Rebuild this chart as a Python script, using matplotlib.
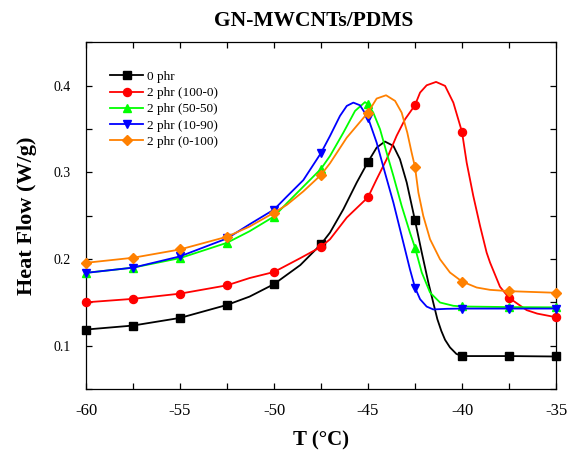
import numpy as np
import matplotlib
matplotlib.use('Agg')
import matplotlib.pyplot as plt
from matplotlib.ticker import MultipleLocator, FixedLocator

plt.rcParams['font.family'] = ['Liberation Serif', 'DejaVu Serif']

# temperatures where the markers sit
T_marks = [-60, -57.5, -55, -52.5, -50, -47.5, -45, -42.5, -40, -37.5, -35]

# marker values
black_mk = [0.1186, 0.1232, 0.132, 0.147, 0.171, 0.217, 0.312, 0.2445, 0.088, 0.088, 0.0875]
red_mk = [0.150, 0.154, 0.160, 0.1696, 0.185, 0.214, 0.2712, 0.3775, 0.3466, 0.1552, 0.1328]
green_mk = [0.184, 0.190, 0.201, 0.2187, 0.249, 0.304, 0.3785, 0.2132, 0.1452, 0.1445, 0.1442]
blue_mk = [0.184, 0.190, 0.203, 0.2237, 0.257, 0.3223, 0.363, 0.167, 0.1428, 0.1428, 0.1428]
orange_mk = [0.1956, 0.2014, 0.211, 0.2257, 0.2534, 0.297, 0.369, 0.3062, 0.174, 0.1629, 0.161]

# extra points read along the curves between the markers
black_T = [-51.3, -48.6, -47.02, -46.31, -45.6, -44.54, -44.1, -43.65, -43.3, -42.94, -42.14, -41.79,
           -41.53, -41.31, -41.1, -40.9, -40.64, -40.3]
black_v = [0.1566, 0.193, 0.2305, 0.2574, 0.2882, 0.3285, 0.3355, 0.3305, 0.3151, 0.2882, 0.2074, 0.1728,
           0.1498, 0.1305, 0.117, 0.1067, 0.098, 0.0905]

red_T = [-51.3, -48.6, -47.02, -46.13, -44.54, -44.01, -43.48, -43.03, -42.23, -41.88, -41.38, -40.9,
         -40.46, -39.75, -39.4, -39.04, -38.69, -38.51, -37.98, -36.56, -36.0]
red_v = [0.178, 0.201, 0.2228, 0.2478, 0.292, 0.315, 0.342, 0.3612, 0.392, 0.4004, 0.4043, 0.3997,
         0.3804, 0.311, 0.2728, 0.2382, 0.2074, 0.196, 0.168, 0.141, 0.137]

green_T = [-51.3, -49.32, -48.44, -47.02, -46.31, -45.69, -45.16, -44.72, -44.36, -44.01, -43.65, -43.21,
           -42.77, -42.14, -41.7, -41.17, -40.46]
green_v = [0.232, 0.2643, 0.2835, 0.3189, 0.3458, 0.3708, 0.381, 0.3689, 0.3497, 0.3228, 0.2959, 0.2613,
           0.2305, 0.1844, 0.1613, 0.1498, 0.146]

blue_T = [-51.3, -49.32, -48.44, -47.02, -46.49, -46.13, -45.78, -45.43, -44.54, -44.1, -43.65, -43.21,
          -42.77, -42.23, -41.88, -41.53, -40.82]
blue_v = [0.240, 0.272, 0.291, 0.342, 0.3651, 0.3766, 0.3804, 0.3774, 0.3343, 0.2997, 0.2651, 0.2267,
          0.1882, 0.1536, 0.1451, 0.1418, 0.1425]

orange_T = [-51.3, -49.32, -48.44, -47.02, -46.13, -44.54, -44.04, -43.56, -43.21, -42.91, -42.68, -42.32,
            -42.06, -41.7, -41.17, -40.64, -39.22, -38.51]
orange_v = [0.2374, 0.2624, 0.278, 0.3105, 0.340, 0.3851, 0.3889, 0.3824, 0.3689, 0.3458, 0.3228, 0.2766,
            0.2497, 0.2228, 0.1997, 0.1844, 0.1671, 0.1644]

labels = ['0 phr', '2 phr (100-0)', '2 phr (50-50)', '2 phr (10-90)', '2 phr (0-100)']
colors = ['black', '#FF0000', '#00FF00', '#0000FF', '#FF8000']
markers = ['s', 'o', '^', 'v', 'D']
msizes = [5.2, 5.8, 6.2, 6.2, 5.2]

series = [(black_mk, black_T, black_v), (red_mk, red_T, red_v), (green_mk, green_T, green_v),
          (blue_mk, blue_T, blue_v), (orange_mk, orange_T, orange_v)]

fig = plt.figure(figsize=(5.69, 4.53), dpi=100)
ax = fig.add_axes([86/569, 64/453, 470/569, 346.7/453])

for (mk, xt, xv), lab, c, m, ms in zip(series, labels, colors, markers, msizes):
    x = np.concatenate([T_marks, xt])
    y = np.concatenate([mk, xv])
    is_mark = np.concatenate([np.ones(len(T_marks), bool), np.zeros(len(xt), bool)])
    order = np.argsort(x)
    ax.plot(x[order], y[order], color=c, lw=1.3, marker=m, ms=ms,
            markevery=list(is_mark[order]), label=lab, clip_on=False, zorder=3)

ax.set_xlim(-60, -35)
ax.set_ylim(0.05, 0.45)
ax.xaxis.set_major_locator(MultipleLocator(5))
ax.xaxis.set_minor_locator(MultipleLocator(2.5))
ax.yaxis.set_major_locator(FixedLocator([0.1, 0.2, 0.3, 0.4]))
ax.yaxis.set_minor_locator(MultipleLocator(0.05))
ax.tick_params(which='both', direction='in', top=True, right=True, length=4, width=0.9)
ax.tick_params(axis='x', labelsize=12, pad=10)
ax.tick_params(axis='y', labelsize=10, pad=11)
ax.xaxis.set_major_formatter(plt.FuncFormatter(lambda v, p: '%d' % v))
ax.yaxis.set_major_formatter(plt.FuncFormatter(lambda v, p: '%.1f' % v))
for s in ax.spines.values():
    s.set_linewidth(0.9)

ax.set_xlabel('T (°C)', fontsize=15, fontweight='bold', labelpad=8)
ax.set_ylabel('Heat Flow (W/g)', fontsize=16, fontweight='bold', labelpad=12)
fig.text(0.552, 0.953, 'GN-MWCNTs/PDMS', ha='center', va='center', fontsize=15.5, fontweight='bold')

ax.legend(loc='upper left', bbox_to_anchor=(0.052, 0.918), frameon=False, fontsize=9.5,
          handlelength=2.5, handletextpad=0.3, labelspacing=0.3, borderpad=0, borderaxespad=0)

fig.savefig('out.png', dpi=100)
